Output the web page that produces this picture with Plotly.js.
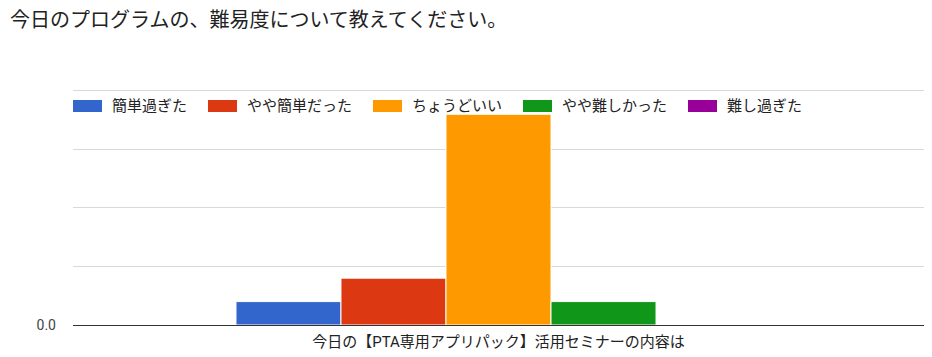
<!DOCTYPE html>
<html><head><meta charset="utf-8">
<script src="https://cdn.plot.ly/plotly-3.0.1.min.js"></script>
<style>html,body{margin:0;padding:0;background:#fff;}#chart{width:932px;height:357px;}</style>
</head><body><div id="chart"></div>
<script>
const chartTitle = '今日のプログラムの、難易度について教えてください。';
const categories = ['今日の【PTA専用アプリパック】活用セミナーの内容は'];
const seriesNames = ['簡単過ぎた', 'やや簡単だった', 'ちょうどいい', 'やや難しかった', '難し過ぎた'];
const seriesValues = [[1], [2], [9], [1], [0]];
const seriesColors = ['#3366cc', '#dc3912', '#ff9900', '#109618', '#990099'];
const yTickVals = [0, 2.5, 5, 7.5, 10];
const yTickText = ['0.0', '', '', '', ''];

const FONT = "Roboto, 'Noto Sans CJK JP', sans-serif";
const W = 932, H = 357;
const M = {l: 73, r: 8, t: 89, b: 32};
const plotW = W - M.l - M.r, plotH = H - M.t - M.b;

const traces = seriesNames.map((n, i) => ({
  type: 'bar', name: n, x: categories, y: seriesValues[i],
  marker: {color: seriesColors[i], line: {color: '#ffffff', width: 1}},
  showlegend: false, hoverinfo: 'none'
}));

// custom legend (wide swatches like the original)
const cv = document.createElement('canvas').getContext('2d');
cv.font = '15px ' + FONT;
const shapes = [], annotations = [];
let px = 73;
const legY = 106, swW = 29, swH = 12;
const toPX = v => (v - M.l) / plotW;
const toPY = v => (H - M.b - v) / plotH;
seriesNames.forEach((n, i) => {
  shapes.push({type: 'rect', xref: 'paper', yref: 'paper', x0: toPX(px), x1: toPX(px + swW),
    y0: toPY(legY + swH / 2), y1: toPY(legY - swH / 2), fillcolor: seriesColors[i], line: {width: 0}});
  annotations.push({xref: 'paper', yref: 'paper', x: toPX(px + swW + 8), y: toPY(legY), text: n,
    showarrow: false, xanchor: 'left', yanchor: 'middle', font: {family: FONT, size: 15, color: '#222'}});
  px += swW + 8 + cv.measureText(n).width + 23;
});

const layout = {
  width: W, height: H, margin: M,
  paper_bgcolor: '#fff', plot_bgcolor: '#fff',
  title: {text: chartTitle, x: 10 / W, xanchor: 'left', y: 1 - 20 / H, yanchor: 'middle',
    font: {family: FONT, size: 20, color: '#222'}},
  barmode: 'group', bargap: 0.383, bargroupgap: 0,
  xaxis: {type: 'category', showgrid: false, ticks: '', showline: false,
    tickfont: {family: FONT, size: 15, color: '#222'}, ticklabelstandoff: 6},
  yaxis: {range: [0, 10.08], tickvals: yTickVals, ticktext: yTickText, showgrid: true,
    gridcolor: '#d9d9d9', gridwidth: 1, zeroline: true, zerolinecolor: '#333', zerolinewidth: 1,
    ticks: '', showline: false, tickfont: {family: FONT, size: 14, color: '#444'}, ticklabelstandoff: 16},
  shapes: shapes, annotations: annotations, showlegend: false
};
Plotly.newPlot('chart', traces, layout, {staticPlot: true, displayModeBar: false});
</script></body></html>
